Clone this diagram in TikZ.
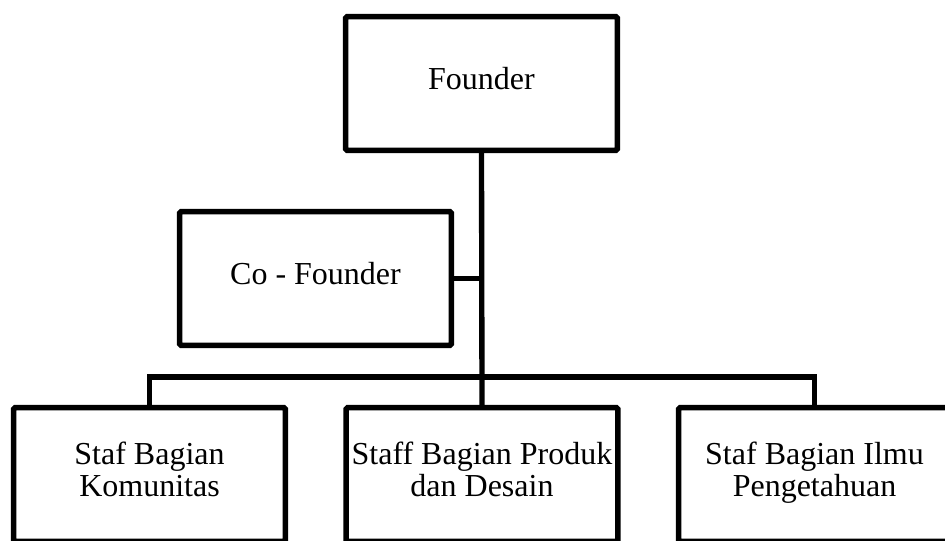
\documentclass[tikz,border=0pt]{standalone}
\usepackage{fontspec}
\setmainfont{Liberation Serif}
\usetikzlibrary{positioning}

\begin{document}
\begin{tikzpicture}[x=0.75pt,y=-0.75pt,
  post/.style={draw, black, line width=4pt, fill=white, rounded corners=1pt,
    minimum width=203.8pt, minimum height=100.3pt, inner sep=0pt,
    align=center, font=\fontsize{24}{24}\selectfont,
    execute at end node={\strut}},
  link/.style={draw, black, line width=4pt}]
\clip (0,0) rectangle (945,540);
\fill[white] (0,0) rectangle (945,540);
\coordinate (bus) at (482,377);
\node[post] (founder) at (481.5,83.5) {Founder};
\node[post] (cofounder) at (315.5,278.5) {Co - Founder};
\node[post] (komunitas) at (149.5,474.5) {Staf Bagian\\Komunitas};
\node[post] (produk) at (482,474.5) {Staff Bagian Produk\\dan Desain};
\node[post] (ilmu) at (814.5,474.5) {Staf Bagian Ilmu\\Pengetahuan};
% garis penghubung
\draw[link] (founder.south) -- (produk.north);
\draw[link] (cofounder.east) -- (cofounder.east -| founder.south);
\draw[link] (komunitas.north) |- (bus) -| (ilmu.north);
\end{tikzpicture}
\end{document}
